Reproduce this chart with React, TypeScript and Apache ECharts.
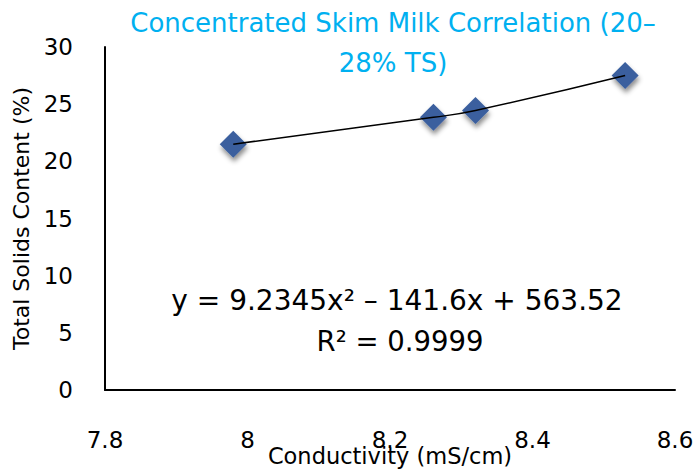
import React, { useEffect, useRef } from "react";
import * as echarts from "echarts";

const conductivity = [7.98, 8.261, 8.32, 8.53];
const totalSolids = [21.5, 23.85, 24.45, 27.5];
const titleText = "Concentrated Skim Milk Correlation (20–\n28% TS)";
const equationText = "y = 9.2345x² – 141.6x + 563.52";
const r2Text = "R² = 0.9999";
const xName = "Conductivity (mS/cm)";
const yName = "Total Solids Content (%)";

const FONT = "DejaVu Sans";

export default function App() {
  const ref = useRef<HTMLDivElement>(null);
  useEffect(() => {
    if (!ref.current) return;
    const chart = echarts.init(ref.current, null, { renderer: "svg" });
    const pts = conductivity.map((x, i) => [x, totalSolids[i]]);
    chart.setOption({
      animation: false,
      backgroundColor: "#ffffff",
      title: {
        text: titleText,
        left: 388,
        textAlign: "center",
        top: -2,
        textStyle: {
          fontFamily: FONT,
          fontSize: 26,
          fontWeight: "normal",
          color: "#00B0F0",
          lineHeight: 40,
        },
      },
      grid: {
        left: 105,
        width: 570,
        top: 47,
        height: 343,
        outerBoundsMode: "none",
        containLabel: false,
      },
      xAxis: {
        type: "value",
        min: 7.8,
        max: 8.6,
        interval: 0.2,
        axisLine: { show: true, lineStyle: { color: "#000", width: 2 } },
        axisTick: { show: false },
        splitLine: { show: false },
        axisLabel: {
          fontFamily: FONT,
          fontSize: 23,
          color: "#000",
          margin: 38,
          formatter: (v: number) => String(Math.round(v * 10) / 10),
        },
      },
      yAxis: {
        type: "value",
        min: 0,
        max: 30,
        interval: 5,
        name: yName,
        nameLocation: "middle",
        nameGap: 72,
        nameTextStyle: { fontFamily: FONT, fontSize: 22, color: "#000" },
        axisLine: { show: true, lineStyle: { color: "#000", width: 2 } },
        axisTick: { show: false },
        splitLine: { show: false },
        axisLabel: { fontFamily: FONT, fontSize: 23, color: "#000", margin: 32 },
      },
      series: [
        {
          type: "line",
          data: pts,
          smooth: true,
          symbol: "none",
          lineStyle: { color: "#000", width: 1.5 },
          z: 3,
        },
        {
          type: "scatter",
          data: pts,
          symbol: "diamond",
          symbolSize: [27, 27],
          itemStyle: {
            color: "#3A5F9E",
            opacity: 1,
            shadowBlur: 5,
            shadowOffsetX: 1,
            shadowOffsetY: 4,
            shadowColor: "rgba(0,0,0,0.45)",
          },
          z: 2,
        },
      ],
      graphic: [
        {
          type: "text",
          x: 390,
          y: 456,
          style: {
            text: xName,
            fontFamily: FONT,
            fontSize: 22.5,
            fill: "#000",
            align: "center",
            verticalAlign: "middle",
          },
        },
        {
          type: "text",
          x: 397,
          y: 300,
          style: {
            text: equationText,
            fontFamily: FONT,
            fontSize: 28,
            fill: "#000",
            align: "center",
            verticalAlign: "middle",
          },
        },
        {
          type: "text",
          x: 400,
          y: 341,
          style: {
            text: r2Text,
            fontFamily: FONT,
            fontSize: 27.5,
            fill: "#000",
            align: "center",
            verticalAlign: "middle",
          },
        },
      ],
    });
    return () => chart.dispose();
  }, []);
  return (
    <div
      ref={ref}
      style={{ position: "fixed", left: 0, top: 0, width: 700, height: 469 }}
    />
  );
}
